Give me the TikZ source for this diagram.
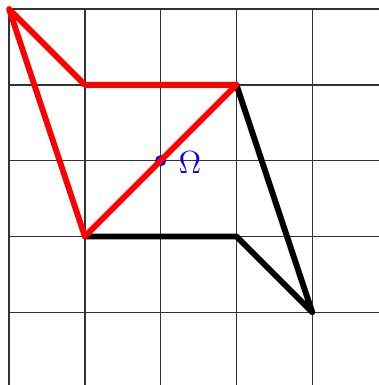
\documentclass[tikz,border=0pt]{standalone}
\begin{document}
\begin{tikzpicture}[x=1cm,y=1cm,
  gridline/.style={line width=0.5pt,black!80},
  redline/.style={red,line width=2.2pt,line join=round,line cap=round},
  blackline/.style={black,line width=2.2pt,line join=round,line cap=round}]
\useasboundingbox (-0.12,-4.96) rectangle (4.88,0.12);
\draw[gridline] (0,-4.96) grid (4.88,0);
\coordinate (A) at (0,0);
\coordinate (B) at (1,-1);
\coordinate (C) at (3,-1);
\coordinate (D) at (1,-3);
\coordinate (E) at (4,-4);
\coordinate (F) at (3,-3);
\coordinate (O) at (2,-2);
\fill[blue] (O) circle (2.1pt);
\node[blue,anchor=west,font=\fontsize{13}{15}\selectfont,inner sep=0pt] (Ol) at ([xshift=0.23cm,yshift=-0.03cm]O) {$\Omega$};
\draw[blackline] (C) -- (E) -- (F) -- (D);
\draw[redline] (A) -- (B) -- (C) -- (D) -- cycle;
\end{tikzpicture}
\end{document}
